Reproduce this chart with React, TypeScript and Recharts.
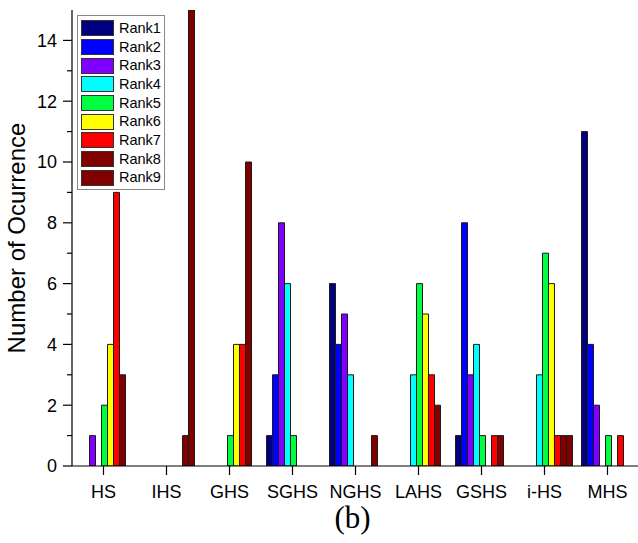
import { BarChart, Bar, XAxis, YAxis, Legend, Label } from 'recharts'

const categories = ['HS', 'IHS', 'GHS', 'SGHS', 'NGHS', 'LAHS', 'GSHS', 'i-HS', 'MHS']
const rank1 = [0, 0, 0, 1, 6, 0, 1, 0, 11]
const rank2 = [0, 0, 0, 3, 4, 0, 8, 0, 4]
const rank3 = [1, 0, 0, 8, 5, 0, 3, 0, 2]
const rank4 = [0, 0, 0, 6, 3, 3, 4, 3, 0]
const rank5 = [2, 0, 1, 1, 0, 6, 1, 7, 1]
const rank6 = [4, 0, 4, 0, 0, 5, 0, 6, 0]
const rank7 = [9, 0, 4, 0, 0, 3, 1, 1, 1]
const rank8 = [3, 1, 10, 0, 1, 2, 1, 1, 0]
const rank9 = [0, 15, 0, 0, 0, 0, 0, 1, 0]

const leftTicks = [0, 1, 2, 3, 4, 5, 6, 7, 8, 9, 10, 11, 12, 13, 14, 15]
const rightTicks = [1, 2, 3, 4, 5, 6, 7, 8, 9]
const topTicks = [1, 3, 5, 7, 9]

const series = [
  { key: 'Rank1', values: rank1, color: '#000080' },
  { key: 'Rank2', values: rank2, color: '#0000FF' },
  { key: 'Rank3', values: rank3, color: '#8000FF' },
  { key: 'Rank4', values: rank4, color: '#00FFFF' },
  { key: 'Rank5', values: rank5, color: '#00FF40' },
  { key: 'Rank6', values: rank6, color: '#FFFF00' },
  { key: 'Rank7', values: rank7, color: '#FF0000' },
  { key: 'Rank8', values: rank8, color: '#800000' },
  { key: 'Rank9', values: rank9, color: '#800000' },
]

const data = categories.map((name, i) => {
  const row: Record<string, string | number> = { name }
  series.forEach((s) => { row[s.key] = s.values[i] })
  return row
})

const SANS = '"Liberation Sans", Arial, sans-serif'

function LeftTick({ x, y, payload }: any) {
  const major = payload.value % 2 === 0
  if (payload.value === 15) return null
  return (
    <g>
      <line x1={x} x2={x - (major ? 9 : 5)} y1={y} y2={y} stroke="#000" strokeWidth={1.2} />
      {major && (
        <text x={x - 15} y={y} dy="0.36em" textAnchor="end" fontSize={18} fill="#000" fontFamily={SANS}>
          {payload.value}
        </text>
      )}
    </g>
  )
}

function RightTick({ x, y, payload }: any) {
  const major = payload.value % 2 === 0
  return <line x1={x} x2={x - (major ? 10 : 5)} y1={y} y2={y} stroke="#000" strokeWidth={1.2} />
}

function TopTick({ x, y }: any) {
  return <line x1={x} x2={x} y1={y} y2={y + 5} stroke="#000" strokeWidth={1.2} />
}

function YTitle({ viewBox }: any) {
  const cx = viewBox.x + 13
  const cy = viewBox.y + viewBox.height / 2
  return (
    <text x={cx} y={cy} transform={`rotate(-90, ${cx}, ${cy})`} textAnchor="middle" fontSize={24} fill="#000" fontFamily={SANS}>
      Number of Ocurrence
    </text>
  )
}

function LegendBox({ payload }: any) {
  return (
    <div style={{ border: '1px solid #888', background: '#fff', padding: '3px 3px 2px 3px', fontFamily: SANS }}>
      {(payload || []).map((p: any) => (
        <div key={p.value} style={{ display: 'flex', alignItems: 'center', height: 18.7 }}>
          <div style={{ width: 31, height: 14, border: '1px solid #333', background: p.color, marginRight: 5 }} />
          <span style={{ fontSize: 14.5, color: '#000', lineHeight: '15px' }}>{p.value}</span>
        </div>
      ))}
    </div>
  )
}

export default function App() {
  return (
    <div style={{ position: 'absolute', left: 0, top: 0, width: 638, height: 543, overflow: 'hidden', background: '#fff' }}>
      <BarChart
        width={660}
        height={543}
        data={data}
        margin={{ top: 10, right: 1, bottom: 0, left: 12 }}
        barCategoryGap={5.5}
        barGap={0}
        style={{ fontFamily: SANS }}
      >
        <XAxis
          dataKey="name"
          interval={0}
          height={77}
          tickSize={9}
          tickMargin={10}
          axisLine={{ stroke: '#000', strokeWidth: 1.2 }}
          tickLine={{ stroke: '#000', strokeWidth: 1.2 }}
          tick={{ fontSize: 18, fill: '#000', fontFamily: SANS }}
        >
          <Label value="(b)" position="insideBottom" offset={15} dx={-3} fontSize={31} fill="#000" fontFamily='"Liberation Serif", "Times New Roman", serif' />
        </XAxis>
        <XAxis
          xAxisId="top"
          orientation="top"
          type="number"
          domain={[0, 10]}
          ticks={topTicks}
          height={0}
          tickSize={0}
          tickMargin={0}
          tickLine={false}
          axisLine={{ stroke: '#000', strokeWidth: 1.2 }}
          tick={<TopTick />}
        />
        <YAxis
          domain={[0, 15]}
          ticks={leftTicks}
          allowDataOverflow
          width={60}
          tickSize={0}
          tickMargin={0}
          tickLine={false}
          interval={0}
          axisLine={{ stroke: '#000', strokeWidth: 1.2 }}
          tick={<LeftTick />}
        >
          <Label content={<YTitle />} />
        </YAxis>
        <YAxis
          yAxisId="right"
          orientation="right"
          domain={[0, 10]}
          ticks={rightTicks}
          width={20}
          tickSize={0}
          tickMargin={0}
          tickLine={false}
          interval={0}
          axisLine={{ stroke: '#000', strokeWidth: 1.2 }}
          tick={<RightTick />}
        />
        <Legend
          layout="vertical"
          align="center"
          verticalAlign="middle"
          content={<LegendBox />}
          wrapperStyle={{ left: 77, top: 15, width: 'auto' }}
        />
        {series.map((s) => (
          <Bar key={s.key} dataKey={s.key} name={s.key} fill={s.color} stroke="#1a1a1a" strokeWidth={1} isAnimationActive={false} />
        ))}
      </BarChart>
    </div>
  )
}
